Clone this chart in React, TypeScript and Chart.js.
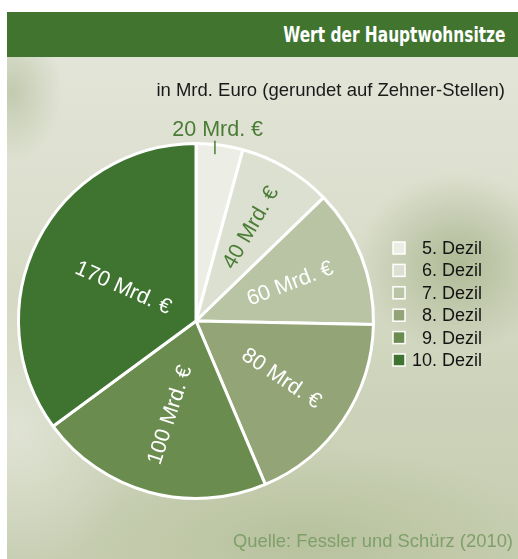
import React, { useEffect, useRef } from "react";
import { Chart, registerables } from "chart.js";

Chart.register(...registerables);

// ---- data ----
const deciles = ["5. Dezil", "6. Dezil", "7. Dezil", "8. Dezil", "9. Dezil", "10. Dezil"];
const values = [20, 40, 59, 86, 100, 165];
const valueLabels = ["20 Mrd. €", "40 Mrd. €", "60 Mrd. €", "80 Mrd. €", "100 Mrd. €", "170 Mrd. €"];
const sliceColors = ["#ECEDE5", "#DCE0D0", "#B8C4A3", "#93A577", "#6B8C4F", "#3F7430"];

const titleText = "Wert der Hauptwohnsitze";
const subtitleText = "in Mrd. Euro (gerundet auf Zehner-Stellen)";
const sourceText = "Quelle: Fessler und Schürz (2010)";

// ---- label styling (radial fraction, rotation, colour) ----
const labelStyles = [
  { r: 1.085, rot: 0, color: "#4A7C36", dx: -4, dy: 0, tick: true },
  { r: 0.61, rot: -60, color: "#4A7C36", dx: 0, dy: 0, tick: false },
  { r: 0.57, rot: -21, color: "#FFFFFF", dx: 0, dy: 0, tick: false },
  { r: 0.58, rot: 34, color: "#FFFFFF", dx: 0, dy: 0, tick: false },
  { r: 0.55, rot: -72, color: "#FFFFFF", dx: 0, dy: 0, tick: false },
  { r: 0.46, rot: 24, color: "#FFFFFF", dx: 0, dy: 4, tick: false },
];

const FONT = '"Liberation Sans", Arial, sans-serif';

const sliceLabelPlugin = {
  id: "sliceLabels",
  afterDatasetsDraw(chart: any) {
    const ctx = chart.ctx;
    const meta = chart.getDatasetMeta(0);
    meta.data.forEach((arc: any, i: number) => {
      const p = arc.getProps(["x", "y", "startAngle", "endAngle", "outerRadius"], true);
      const mid = (p.startAngle + p.endAngle) / 2;
      const st = labelStyles[i];
      const px = p.x + Math.cos(mid) * p.outerRadius * st.r + st.dx;
      const py = p.y + Math.sin(mid) * p.outerRadius * st.r + st.dy;
      ctx.save();
      if (st.tick) {
        const tx = p.x + Math.cos(mid) * p.outerRadius * 0.8;
        ctx.strokeStyle = st.color;
        ctx.lineWidth = 1.5;
        ctx.beginPath();
        ctx.moveTo(tx, p.y - p.outerRadius * 1.015);
        ctx.lineTo(tx, p.y - p.outerRadius * 0.94);
        ctx.stroke();
      }
      ctx.translate(px, py);
      ctx.rotate((st.rot * Math.PI) / 180);
      ctx.fillStyle = st.color;
      ctx.font = `21.5px ${FONT}`;
      ctx.textAlign = "center";
      ctx.textBaseline = "middle";
      ctx.fillText(valueLabels[i], 0, 0);
      ctx.restore();
    });
  },
};

const legendPlugin = {
  id: "customLegend",
  afterDraw(chart: any) {
    const ctx = chart.ctx;
    const labels = chart.data.labels as string[];
    const colors = chart.data.datasets[0].backgroundColor as string[];
    const boxX = 386;
    const textRight = 475;
    const y0 = 191;
    const step = 22.4;
    ctx.save();
    labels.forEach((lab, i) => {
      const y = y0 + i * step;
      ctx.fillStyle = colors[i];
      ctx.fillRect(boxX, y - 6, 12, 12);
      ctx.strokeStyle = "#FFFFFF";
      ctx.lineWidth = 1.5;
      ctx.strokeRect(boxX, y - 6, 12, 12);
      ctx.fillStyle = "#141414";
      ctx.font = `18px ${FONT}`;
      ctx.textAlign = "right";
      ctx.textBaseline = "middle";
      ctx.fillText(lab, textRight, y + 1);
    });
    ctx.restore();
  },
};

export default function App() {
  const canvasRef = useRef<HTMLCanvasElement | null>(null);

  useEffect(() => {
    if (!canvasRef.current) return;
    const chart = new Chart(canvasRef.current, {
      type: "pie",
      data: {
        labels: deciles,
        datasets: [
          {
            data: values,
            backgroundColor: sliceColors,
            borderColor: "#FFFFFF",
            borderWidth: 3,
          },
        ],
      },
      options: {
        responsive: false,
        animation: false,
        devicePixelRatio: 1,
        layout: { padding: { left: 10, top: 85, right: 143, bottom: 59 } },
        plugins: {
          legend: { display: false },
          tooltip: { enabled: false },
          title: { display: false },
        },
      } as any,
      plugins: [sliceLabelPlugin, legendPlugin],
    });
    return () => chart.destroy();
  }, []);

  return (
    <div
      style={{
        position: "absolute",
        left: 7,
        top: 12,
        width: 511,
        height: 547,
        overflow: "hidden",
        background: [
          "radial-gradient(ellipse 100px 90px at 450px 250px, rgba(158,172,128,0.7), rgba(158,172,128,0) 100%)",
          "radial-gradient(ellipse 50px 70px at 5px 80px, rgba(170,182,145,0.55), rgba(170,182,145,0) 100%)",
          "radial-gradient(ellipse 240px 90px at 300px 525px, rgba(172,184,142,0.55), rgba(172,184,142,0) 100%)",
          "radial-gradient(ellipse 120px 140px at 10px 420px, rgba(232,234,224,0.7), rgba(232,234,224,0) 100%)",
          "linear-gradient(180deg, #E4E6DA 0%, #DCDFCE 35%, #CDD3BA 70%, #C6CDB0 100%)",
        ].join(", "),
        fontFamily: FONT,
      }}
    >
      <div
        style={{
          position: "absolute",
          left: 0,
          top: 0,
          width: 511,
          height: 45,
          background: "#41752F",
        }}
      >
        <div
          style={{
            position: "absolute",
            right: 13,
            top: 0,
            lineHeight: "45px",
            color: "#FFFFFF",
            fontFamily: '"DejaVu Sans", sans-serif',
            fontWeight: "bold",
            fontSize: 22,
            whiteSpace: "nowrap",
            transform: "scaleX(0.7)",
            transformOrigin: "right center",
          }}
        >
          {titleText}
        </div>
      </div>
      <canvas
        ref={canvasRef}
        width={511}
        height={502}
        style={{ position: "absolute", left: 0, top: 45, width: 511, height: 502 }}
      />
      <div
        style={{
          position: "absolute",
          right: 13,
          top: 67,
          lineHeight: "22px",
          fontSize: 18.5,
          color: "#1A1A1A",
          whiteSpace: "nowrap",
        }}
      >
        {subtitleText}
      </div>
      <div
        style={{
          position: "absolute",
          right: 5,
          top: 518,
          lineHeight: "22px",
          fontSize: 18.4,
          color: "#7FA06A",
          whiteSpace: "nowrap",
        }}
      >
        {sourceText}
      </div>
    </div>
  );
}
